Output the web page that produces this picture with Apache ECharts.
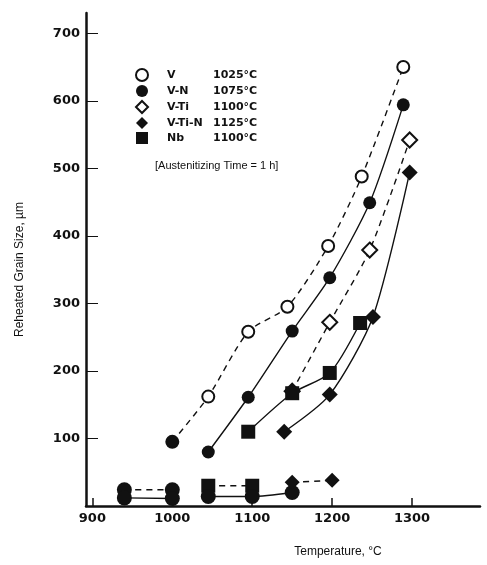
<!DOCTYPE html>
<html>
<head>
<meta charset="utf-8">
<script src="https://cdn.jsdelivr.net/npm/echarts@6/dist/echarts.min.js"></script>
<style>
  html, body { margin: 0; padding: 0; background: #fff; }
  #chart { width: 487px; height: 565px; }
</style>
</head>
<body>
<div id="chart"></div>
<script>
// values: [temperature °C, grain size µm]
const xTicks = [900, 1000, 1100, 1200, 1300];
const yTicks = [100, 200, 300, 400, 500, 600, 700];

const seriesNames = ['V', 'V-N', 'V-Ti', 'V-Ti-N', 'Nb'];
const coarseningTemps = ['1025°C', '1075°C', '1100°C', '1125°C', '1100°C'];

const vData = [[1000, 95], [1045, 162], [1095, 258], [1144, 295], [1195, 385], [1237, 488], [1289, 650]];
const vnData = [[1045, 80], [1095, 161], [1150, 259], [1197, 338], [1247, 449], [1289, 594]];
const vtiData = [[1150, 170], [1197, 272], [1247, 379], [1297, 542]];
const vtinData = [[1140, 110], [1197, 165], [1251, 280], [1297, 494]];
const nbData = [[1095, 110], [1150, 167], [1197, 197], [1235, 271]];

// small grains below the coarsening temperature
const vLow = [[940, 24], [1000, 24]];
const vnLow = [[940, 12], [1000, 11]];
const nbLow = [[1045, 30], [1100, 30]];
const vtiLow = [[1045, 14], [1100, 14], [1150, 20]];
const vtinLow = [[1150, 35], [1200, 38]];

const chart = echarts.init(document.getElementById('chart'));

const black = '#111';
const dashed = [6, 5];

function mkSeries(name, data, symbol, open, lineType, size) {
  return {
    name: name,
    type: 'line',
    smooth: 0.25,
    symbol: symbol,
    symbolSize: size || 12,
    data: data,
    lineStyle: { color: black, width: 1.4, type: lineType },
    itemStyle: open
      ? { color: '#fff', borderColor: black, borderWidth: 2 }
      : { color: black, borderColor: black, borderWidth: 0 },
    z: 3
  };
}

// first points of V and V-Ti look solid in the picture
const vItems = vData.map((d, i) => i === 0 ? { value: d, itemStyle: { color: black } } : d);
const vtiItems = vtiData.map((d, i) => i === 0 ? { value: d, itemStyle: { color: black } } : d);

const option = {
  backgroundColor: '#fff',
  animation: false,
  grid: { left: 86, right: 7, top: 13, bottom: 59, containLabel: false },
  title: {
    text: '[Austenitizing Time = 1 h]',
    left: 150,
    top: 155,
    textStyle: { fontFamily: 'Liberation Sans', fontSize: 11, fontWeight: 'normal', color: black }
  },
  legend: {
    orient: 'vertical',
    left: 130,
    top: 63,
    itemWidth: 12,
    itemHeight: 12,
    itemGap: 3,
    data: [
      { name: 'V', icon: 'circle' },
      { name: 'V-N', icon: 'circle' },
      { name: 'V-Ti', icon: 'diamond' },
      { name: 'V-Ti-N', icon: 'diamond' },
      { name: 'Nb', icon: 'rect' }
    ],
    formatter: function (name) {
      return '{n|' + name + '}{t|' + coarseningTemps[seriesNames.indexOf(name)] + '}';
    },
    textStyle: {
      rich: {
        n: { width: 46, padding: [0, 0, 0, 14], fontFamily: 'DejaVu Sans', fontWeight: 'bold', fontSize: 11, color: black },
        t: { fontFamily: 'DejaVu Sans', fontWeight: 'bold', fontSize: 11, color: black }
      }
    }
  },
  xAxis: {
    type: 'value',
    min: 892,
    max: 1385,
    name: 'Temperature, °C',
    nameLocation: 'middle',
    nameGap: 40,
    nameTextStyle: { fontFamily: 'Liberation Sans', fontSize: 12, color: black, padding: [0, 0, 0, 110] },
    axisLine: { lineStyle: { color: black, width: 2.5 } },
    axisTick: { inside: true, length: 8, customValues: xTicks, lineStyle: { color: black, width: 1.5 } },
    axisLabel: {
      customValues: xTicks,
      formatter: v => String(v),
      margin: 6,
      fontFamily: 'DejaVu Sans', fontWeight: 'bold', fontSize: 13, color: black
    },
    splitLine: { show: false }
  },
  yAxis: {
    type: 'value',
    min: 0,
    max: 730,
    name: 'Reheated Grain Size, µm',
    nameLocation: 'middle',
    nameRotate: 90,
    nameGap: 60,
    nameTextStyle: { fontFamily: 'Liberation Sans', fontSize: 12, color: black, padding: [0, 20, 0, 0] },
    axisLine: { show: true, lineStyle: { color: black, width: 2.5 } },
    axisTick: { show: true, inside: true, length: 12, customValues: yTicks, lineStyle: { color: black, width: 1 } },
    axisLabel: {
      customValues: yTicks,
      formatter: v => String(v),
      margin: 6,
      fontFamily: 'DejaVu Sans', fontWeight: 'bold', fontSize: 13, color: black
    },
    splitLine: { show: false }
  },
  series: [
    mkSeries('V', vItems, 'circle', true, dashed),
    mkSeries('V-N', vnData, 'circle', false, 'solid', 13),
    mkSeries('V-Ti', vtiItems, 'diamond', true, dashed, 15),
    mkSeries('V-Ti-N', vtinData, 'diamond', false, 'solid', 16),
    mkSeries('Nb', nbData, 'rect', false, 'solid', 14),
    mkSeries('V low', vLow, 'circle', false, dashed, 15),
    mkSeries('V-N low', vnLow, 'circle', false, 'solid', 15),
    mkSeries('Nb low', nbLow, 'rect', false, dashed, 14),
    mkSeries('V-Ti low', vtiLow, 'circle', false, 'solid', 15),
    mkSeries('V-Ti-N low', vtinLow, 'diamond', false, dashed, 15)
  ]
};

chart.setOption(option);
</script>
</body>
</html>
